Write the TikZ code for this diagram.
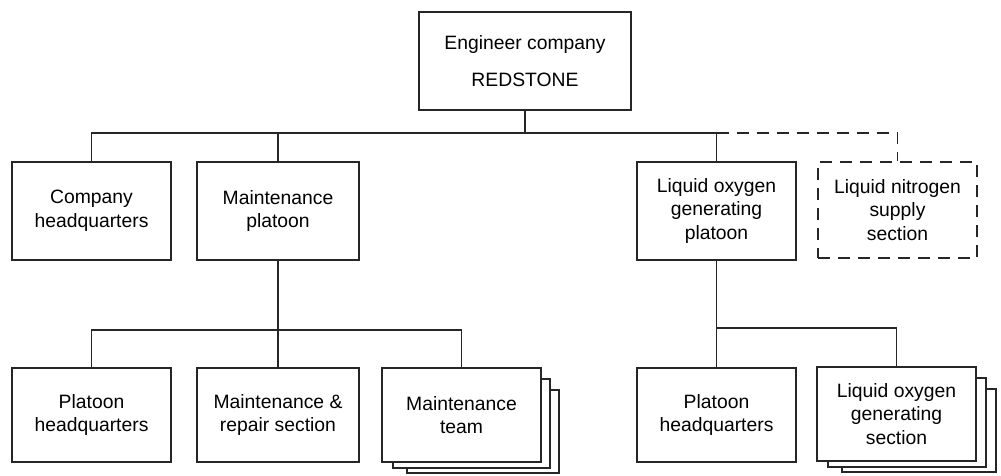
\documentclass[tikz,border=0pt]{standalone}
\usepackage{fontspec}
\setmainfont{Liberation Sans}
\usetikzlibrary{positioning}

\begin{document}
\begin{tikzpicture}[x=0.2mm, y=-0.2mm, line width=1pt, draw=black!85,
  orgbox/.style={draw=black!85, rectangle, fill=white, align=center, inner sep=0pt,
    minimum width=31.8mm, minimum height=19.6mm, text=black,
    font=\fontsize{11}{13.5}\selectfont},
  lowbox/.style={orgbox, minimum height=18.8mm},
  plannedbox/.style={orgbox, dash pattern=on 2.4mm off 1.6mm}]

\useasboundingbox (0,0) rectangle (1001,476);

% Compagnie
\node[orgbox, minimum width=42.4mm] (company) at (525,61) {Engineer company\\[8pt]REDSTONE};

% Sections
\node[orgbox] (companyhq) at (91.5,211) {Company\\headquarters};
\node[orgbox, minimum width=32.4mm] (maintplatoon) at (278,211) {Maintenance\\platoon};
\node[orgbox] (loxplatoon) at (716.5,211) {Liquid oxygen\\generating\\platoon};
\node[plannedbox, minimum height=19.2mm] (nitrogen) at (897.5,210) {Liquid nitrogen\\supply\\section};

% Pelotons
\node[lowbox] (platoonhqA) at (91.5,415) {Platoon\\headquarters};
\node[lowbox, minimum width=32.4mm] (repair) at (278,415) {Maintenance \&\\repair section};
\node[lowbox] (mteam) at (461.5,415) {Maintenance\\team};
\node[lowbox] (platoonhqB) at (716.5,415) {Platoon\\headquarters};
\node[lowbox] (loxsection) at (896.5,414) {Liquid oxygen\\generating\\section};

% Equipes multiples
\draw ([shift={(0,12)}]mteam.north east) -| ([shift={(8,5)}]mteam.south east) -| ([shift={(12,0)}]mteam.south west);
\draw ([shift={(8,23)}]mteam.north east) -| ([shift={(17,10)}]mteam.south east) -| ([shift={(26,5)}]mteam.south west);
\draw ([shift={(0,12)}]loxsection.north east) -| ([shift={(9,5)}]loxsection.south east) -| ([shift={(12,0)}]loxsection.south west);
\draw ([shift={(9,23)}]loxsection.north east) -| ([shift={(19,10)}]loxsection.south east) -| ([shift={(26,5)}]loxsection.south west);

% Liaisons
\coordinate (busA) at (525,133);
\coordinate (busB) at (278,330);
\coordinate (busC) at (719,328);
\draw (company.south) -- (busA);
\draw (companyhq.north) |- (loxplatoon.north |- busA) -- (loxplatoon.north);
\draw (maintplatoon.north) -- (maintplatoon.north |- busA);
\draw[dash pattern=on 2.4mm off 1.6mm] (loxplatoon.north |- busA) -| (nitrogen.north);
\draw (maintplatoon.south) -- (repair.north);
\draw (platoonhqA.north) |- (busB) -| (mteam.north);
\draw (loxplatoon.south) -- (platoonhqB.north);
\draw (busC -| platoonhqB.north) -| (loxsection.north);

\end{tikzpicture}
\end{document}
